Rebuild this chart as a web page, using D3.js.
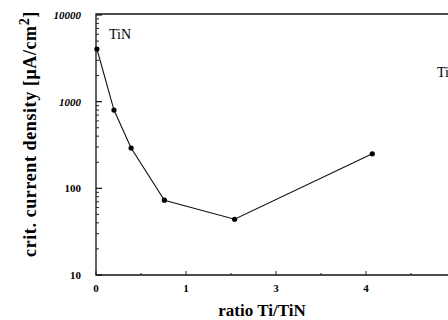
<!DOCTYPE html>
<html><head><meta charset="utf-8">
<script src="https://cdn.jsdelivr.net/npm/d3@7"></script>
<style>body{margin:0;background:#fff}svg{display:block}</style>
</head><body>
<svg id="c" width="448" height="320"></svg>
<script>
// Data
const ratio   = [0.01, 0.2, 0.39, 0.76, 1.54, 3.07];
const density = [4050, 800, 292, 73, 44, 250];
const xTickValues = [0, 1, 2, 3];
const xTickLabels = ["0", "1", "3", "4"];
const yTickValues = [10, 100, 1000, 10000];
const yTickLabels = ["10", "100", "1000", "10000"];

const svg = d3.select("#c");
const serif = "'Liberation Serif','DejaVu Serif',serif";
const x = d3.scaleLinear().domain([0, 3]).range([96, 366]);
const y = d3.scaleLog().domain([10, 10000]).range([275, 15]);
const xEnd = x(4);

// frame
svg.append("path")
  .attr("d", `M${xEnd},${y(10000)-1}H${x(0)}V${y(10)}H${xEnd}`)
  .attr("fill", "none").attr("stroke", "#111").attr("stroke-width", 1.3);

// y minor/major ticks (inward)
const yMinor = [];
for (let d = 10; d < 10000; d *= 10) for (let k = 2; k <= 9; k++) yMinor.push(d * k);
svg.append("g").selectAll("line").data(yMinor).join("line")
  .attr("x1", x(0)).attr("x2", x(0) + 3)
  .attr("y1", d => y(d)).attr("y2", d => y(d))
  .attr("stroke", "#222").attr("stroke-width", 1);
svg.append("g").selectAll("line").data(yTickValues).join("line")
  .attr("x1", x(0)).attr("x2", x(0) + 6)
  .attr("y1", d => y(d)).attr("y2", d => y(d))
  .attr("stroke", "#111").attr("stroke-width", 1.2);

// x ticks (inward)
const xMinor = [0.5, 1.5, 2.5, 3.5];
svg.append("g").selectAll("line").data(xTickValues.concat(xMinor)).join("line")
  .attr("x1", d => x(d)).attr("x2", d => x(d))
  .attr("y1", y(10)).attr("y2", d => y(10) - (Number.isInteger(d) ? 4 : 2))
  .attr("stroke", "#222").attr("stroke-width", 1);

// y tick labels
svg.append("g").selectAll("text").data(yTickValues).join("text")
  .attr("x", 81).attr("y", d => y(d) + 4)
  .attr("text-anchor", "end")
  .attr("font-family", serif).attr("font-size", 11).attr("font-weight", "bold")
  .attr("font-style", (d, i) => i >= 2 ? "italic" : "normal")
  .text((d, i) => yTickLabels[i]);

// x tick labels
svg.append("g").selectAll("text").data(xTickValues).join("text")
  .attr("x", d => x(d)).attr("y", 292)
  .attr("text-anchor", "middle")
  .attr("font-family", serif).attr("font-size", 11).attr("font-weight", "bold")
  .text((d, i) => xTickLabels[i]);

// axis titles
svg.append("text").attr("x", 262).attr("y", 316)
  .attr("text-anchor", "middle").attr("font-family", serif)
  .attr("font-size", 17).attr("font-weight", "bold").text("ratio Ti/TiN");

const yt = svg.append("text")
  .attr("transform", "translate(36,134) rotate(-90)")
  .attr("text-anchor", "middle").attr("font-family", serif)
  .attr("font-size", 18).attr("font-weight", "bold")
  .attr("letter-spacing", 0.6);
yt.append("tspan").text("crit. current density [\u03bcA/cm");
yt.append("tspan").attr("dy", -7).attr("font-size", 14).text("2");
yt.append("tspan").attr("dy", 7).text("]");

// series line and markers
const line = d3.line().x((d, i) => x(ratio[i])).y(d => y(d));
svg.append("path").datum(density).attr("d", line)
  .attr("fill", "none").attr("stroke", "#111").attr("stroke-width", 1.1);
svg.append("g").selectAll("circle").data(density).join("circle")
  .attr("cx", (d, i) => x(ratio[i])).attr("cy", d => y(d)).attr("r", 2.6)
  .attr("fill", "#000");

// labels inside
svg.append("text").attr("x", 109).attr("y", 39)
  .attr("font-family", serif).attr("font-size", 14)
  .text("TiN");
svg.append("text").attr("x", 437).attr("y", 77)
  .attr("font-family", serif).attr("font-size", 14)
  .text("Ti");
</script>
</body></html>
